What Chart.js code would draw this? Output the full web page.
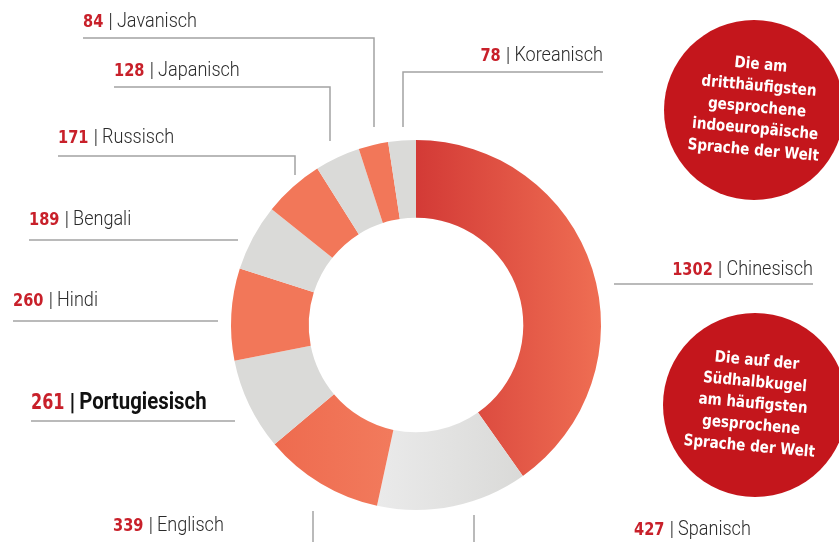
<!DOCTYPE html>
<html>
<head>
<meta charset="utf-8">
<script src="https://cdn.jsdelivr.net/npm/chart.js@4.4.1/dist/chart.umd.min.js"></script>
<style>
  html, body { margin: 0; padding: 0; background: #fff; }
  #wrap { width: 839px; height: 542px; position: relative; }
</style>
</head>
<body>
<div id="wrap"><canvas id="langChart" width="839" height="542"></canvas></div>
<script>
// Muttersprachler in Millionen
const languages = ["Chinesisch", "Spanisch", "Englisch", "Portugiesisch", "Hindi",
                   "Bengali", "Russisch", "Japanisch", "Javanisch", "Koreanisch"];
const speakers  = [1302, 427, 339, 261, 260, 189, 171, 128, 84, 78];

const bubbleTop    = ["Die am", "dritthäufigsten", "gesprochene", "indoeuropäische", "Sprache der Welt"];
const bubbleBottom = ["Die auf der", "Südhalbkugel", "am häufigsten", "gesprochene", "Sprache der Welt"];

const RED = "#c4161c";
const SALMON = "#f27759";
const GREY = "#dadad8";
const LINE = "#a3a3a3";

// label placement: text baseline + leader line points
const labelLayout = [
  { x: 813, y: 275, align: "right", line: [[614, 284], [813, 284]] },
  { x: 634, y: 535, align: "left",  line: [[474, 515], [474, 542]] },
  { x: 113, y: 531, align: "left",  line: [[313, 511], [313, 542]] },
  { x: 31,  y: 409, align: "left",  line: [[31, 421], [235, 421]], bold: true },
  { x: 13,  y: 306, align: "left",  line: [[13, 321], [218, 321]] },
  { x: 29,  y: 225, align: "left",  line: [[29, 240], [238, 240]] },
  { x: 58,  y: 143, align: "left",  line: [[58, 156], [295, 156], [295, 175]] },
  { x: 114, y: 76,  align: "left",  line: [[114, 87], [330, 87], [330, 141]] },
  { x: 83,  y: 27,  align: "left",  line: [[83, 38], [374, 38], [374, 127]] },
  { x: 603, y: 61,  align: "right", line: [[403, 127], [403, 72], [603, 72]] },
];

function sliceColor(context) {
  const chart = context.chart;
  const area = chart.chartArea;
  const i = context.dataIndex;
  const plain = i % 2 === 0 ? SALMON : GREY;
  if (!area) return plain;
  const cx = (area.left + area.right) / 2;
  const r = (area.right - area.left) / 2;
  const ctx = chart.ctx;
  let g;
  if (i === 0) {
    g = ctx.createLinearGradient(cx, 0, cx + r, 0);
    g.addColorStop(0, "#d33a36");
    g.addColorStop(1, "#ef6e53");
    return g;
  }
  if (i === 1) {
    g = ctx.createLinearGradient(cx - 0.2 * r, 0, cx + 0.65 * r, 0);
    g.addColorStop(0, "#eaeaea");
    g.addColorStop(1, "#d8d8d6");
    return g;
  }
  if (i === 2) {
    g = ctx.createLinearGradient(cx - 0.8 * r, 0, cx - 0.1 * r, 0);
    g.addColorStop(0, "#ee6a4e");
    g.addColorStop(1, "#f27b5d");
    return g;
  }
  return plain;
}

// narrow text by squeezing it horizontally
function squeezed(ctx, t, font, sx) {
  ctx.font = font;
  return { t, font, sx, w: ctx.measureText(t).width * sx };
}

function putText(ctx, piece, x, y, color) {
  ctx.save();
  ctx.translate(x, y);
  ctx.scale(piece.sx, 1);
  ctx.font = piece.font;
  ctx.fillStyle = color;
  ctx.fillText(piece.t, 0, 0);
  ctx.restore();
}

function drawLabel(ctx, text, value, pos) {
  const num = pos.bold
    ? squeezed(ctx, String(value), "bold 21px 'DejaVu Sans Condensed'", 0.85)
    : squeezed(ctx, String(value), "bold 18px 'DejaVu Sans Condensed'", 0.9);
  const sep = pos.bold
    ? squeezed(ctx, "|", "bold 23px Roboto", 1)
    : squeezed(ctx, "|", "300 21px Roboto", 1);
  const name = pos.bold
    ? squeezed(ctx, text, "bold 24px Roboto", 0.85)
    : squeezed(ctx, text, "300 21px Roboto", 0.86);
  const gap1 = 5, gap2 = 4;
  const total = num.w + gap1 + sep.w + gap2 + name.w;
  let x = pos.align === "right" ? pos.x - total : pos.x;
  ctx.textAlign = "left";
  ctx.textBaseline = "alphabetic";
  putText(ctx, num, x, pos.y, "#c8202a");
  x += num.w + gap1;
  putText(ctx, sep, x, pos.y + 1, pos.bold ? "#111" : "#333");
  x += sep.w + gap2;
  putText(ctx, name, x, pos.y, pos.bold ? "#111" : "#2b2b2b");
}

function drawBubble(ctx, cx, cy, r, lines, textCx, textCy) {
  ctx.save();
  ctx.beginPath();
  ctx.arc(cx, cy, r, 0, Math.PI * 2);
  ctx.fillStyle = RED;
  ctx.fill();
  ctx.translate(textCx, textCy);
  ctx.rotate(0.09);
  ctx.fillStyle = "#fff";
  ctx.font = "bold 16px 'DejaVu Sans Condensed'";
  ctx.textAlign = "center";
  ctx.textBaseline = "middle";
  ctx.scale(0.94, 1);
  const lh = 21.5;
  lines.forEach((t, k) => {
    ctx.fillText(t, 0, (k - (lines.length - 1) / 2) * lh);
  });
  ctx.restore();
}

const calloutPlugin = {
  id: "callouts",
  afterDraw(chart) {
    const ctx = chart.ctx;
    ctx.save();
    ctx.strokeStyle = LINE;
    ctx.lineWidth = 1.5;
    labelLayout.forEach((pos, i) => {
      ctx.beginPath();
      pos.line.forEach(([px, py], k) => k === 0 ? ctx.moveTo(px, py) : ctx.lineTo(px, py));
      ctx.stroke();
      drawLabel(ctx, languages[i], speakers[i], pos);
    });
    drawBubble(ctx, 754, 110, 90, bubbleTop, 757, 108);
    drawBubble(ctx, 755, 405, 92, bubbleBottom, 753, 404);
    ctx.restore();
  }
};

new Chart(document.getElementById("langChart"), {
  type: "doughnut",
  data: {
    labels: languages,
    datasets: [{
      data: speakers,
      backgroundColor: sliceColor,
      borderWidth: 0,
      hoverOffset: 0,
    }]
  },
  options: {
    responsive: false,
    animation: false,
    cutout: "58%",
    layout: { padding: { left: 231, right: 238, top: 140, bottom: 32 } },
    plugins: {
      legend: { display: false },
      tooltip: { enabled: false },
    }
  },
  plugins: [calloutPlugin]
});
</script>
</body>
</html>
